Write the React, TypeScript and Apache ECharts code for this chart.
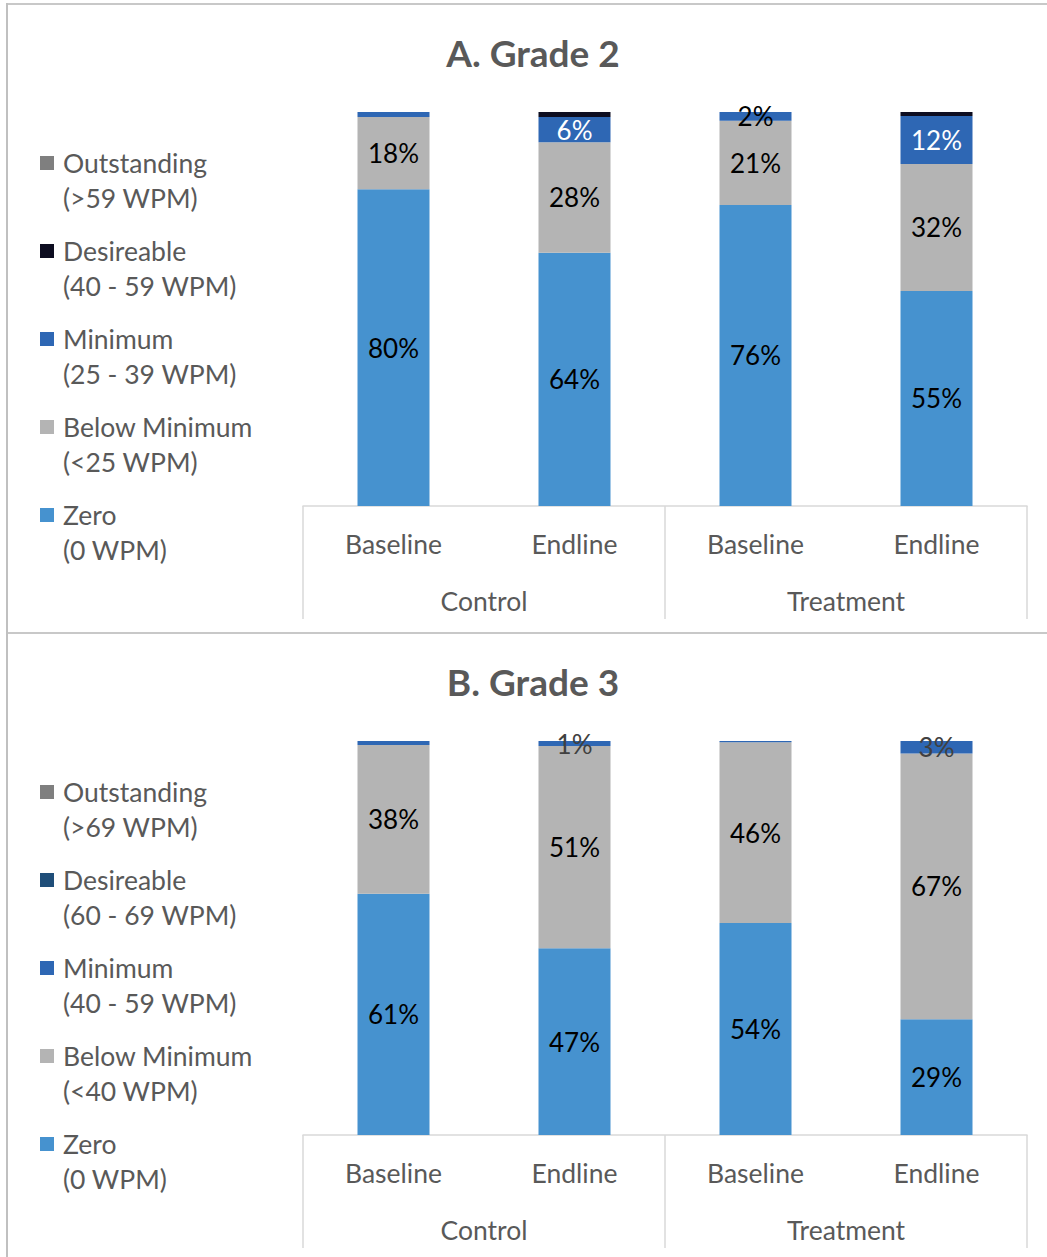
import React, { useEffect, useRef } from "react";
import * as echarts from "echarts";

const categories = ["Baseline", "Endline", "Baseline", "Endline"];
const groups = ["Control", "Treatment"];

const g2Names = [
  "Zero\n(0 WPM)",
  "Below Minimum\n(<25 WPM)",
  "Minimum\n(25 - 39 WPM)",
  "Desireable\n(40 - 59 WPM)",
  "Outstanding\n(>59 WPM)",
];
const g3Names = [
  "Zero\n(0 WPM)",
  "Below Minimum\n(<40 WPM)",
  "Minimum\n(40 - 59 WPM)",
  "Desireable\n(60 - 69 WPM)",
  "Outstanding\n(>69 WPM)",
];

const g2Zero = [80.4, 64.3, 76.4, 54.6];
const g2Below = [18.3, 28.0, 21.4, 32.2];
const g2Minimum = [1.3, 6.4, 2.2, 12.2];
const g2Desireable = [0, 1.3, 0, 1.0];
const g2Outstanding = [0, 0, 0, 0];

const g3Zero = [61.2, 47.4, 53.8, 29.4];
const g3Below = [37.8, 51.3, 45.9, 67.4];
const g3Minimum = [1.0, 1.3, 0.3, 3.2];
const g3Desireable = [0, 0, 0, 0];
const g3Outstanding = [0, 0, 0, 0];

// which segments carry a visible label
const g2MinimumShown = [false, true, true, true];
const g3MinimumShown = [false, true, false, true];

const FONT = "Lato";
const TXT = "#595959";

export default function App() {
  const ref = useRef<HTMLDivElement>(null);
  useEffect(() => {
    if (!ref.current) return;
    const chart = echarts.init(ref.current, null, { renderer: "svg" });

    const g2Colors = ["#4692CF", "#B4B4B4", "#2E67B4", "#0D0D20", "#7F7F7F"];
    const g3Colors = ["#4692CF", "#B4B4B4", "#2E67B4", "#1F4E79", "#7F7F7F"];
    const g2MinLabelColor = ["#000", "#FFFFFF", "#000", "#FFFFFF"];
    const g3MinLabelColor = ["#404040", "#404040", "#404040", "#404040"];

    const labelBase = {
      position: "inside",
      fontFamily: FONT,
      fontSize: 26,
      color: "#000",
      formatter: (p: any) => Math.round(p.value) + "%",
    };

    const mk = (
      grid: number,
      name: string,
      color: string,
      values: number[],
      shown: boolean[],
      labelColors?: string[]
    ) => ({
      type: "bar",
      name,
      xAxisIndex: grid * 2,
      yAxisIndex: grid,
      stack: "s" + grid,
      barWidth: 72,
      itemStyle: { color },
      label: { ...labelBase },
      data: values.map((v, i) => ({
        value: v,
        label: {
          show: shown[i],
          color: labelColors ? labelColors[i] : "#000",
        },
      })),
    });

    const all = [true, true, true, true];
    const none = [false, false, false, false];

    const series = [
      mk(0, g2Names[0], g2Colors[0], g2Zero, all),
      mk(0, g2Names[1], g2Colors[1], g2Below, all),
      mk(0, g2Names[2], g2Colors[2], g2Minimum, g2MinimumShown, g2MinLabelColor),
      mk(0, g2Names[3], g2Colors[3], g2Desireable, none),
      mk(0, g2Names[4], g2Colors[4], g2Outstanding, none),
      mk(1, g3Names[0], g3Colors[0], g3Zero, all),
      mk(1, g3Names[1], g3Colors[1], g3Below, all),
      mk(1, g3Names[2], g3Colors[2], g3Minimum, g3MinimumShown, g3MinLabelColor),
      mk(1, g3Names[3], g3Colors[3], g3Desireable, none),
      mk(1, g3Names[4], g3Colors[4], g3Outstanding, none),
    ];

    const catAxis = (grid: number) => ({
      type: "category",
      gridIndex: grid,
      data: categories,
      position: "bottom",
      axisLine: { show: true, lineStyle: { color: "#D9D9D9", width: 1.5 } },
      axisTick: { show: false },
      axisLabel: { color: TXT, fontFamily: FONT, fontSize: 26.5, lineHeight: 26, margin: 25 },
    });
    const groupAxis = (grid: number) => ({
      type: "category",
      gridIndex: grid,
      data: groups,
      position: "bottom",
      axisLine: { show: false },
      axisTick: {
        show: true,
        length: 113,
        interval: 0,
        lineStyle: { color: "#D9D9D9", width: 1.5 },
      },
      axisLabel: { color: TXT, fontFamily: FONT, fontSize: 26.5, lineHeight: 26, margin: 82 },
    });

    const legendBase = {
      orient: "vertical",
      left: 40,
      padding: 0,
      itemWidth: 14,
      itemHeight: 14,
      itemGap: -17,
      icon: "rect",
      selectedMode: false,
      formatter: (name: string) => "\n" + name,
      textStyle: {
        color: TXT,
        fontFamily: FONT,
        fontSize: 26.5,
        lineHeight: 35,
        padding: [0, 0, 0, 4],
      },
    };

    const legendOrder = [4, 3, 2, 1, 0];

    chart.setOption({
      animation: false,
      backgroundColor: "#FFFFFF",
      grid: [
        { left: 303, width: 724, top: 112, height: 394 },
        { left: 303, width: 724, top: 741, height: 394 },
      ],
      xAxis: [catAxis(0), groupAxis(0), catAxis(1), groupAxis(1)],
      yAxis: [
        { type: "value", gridIndex: 0, min: 0, max: 100, show: false },
        { type: "value", gridIndex: 1, min: 0, max: 100, show: false },
      ],
      legend: [
        { ...legendBase, top: 110.5, data: legendOrder.map((i) => g2Names[i]) },
        { ...legendBase, top: 739.5, data: legendOrder.map((i) => g3Names[i]) },
      ],
      graphic: [
        { type: "rect", shape: { x: 8, y: 3, width: 1039, height: 2 }, style: { fill: "#C8C8C8" } },
        { type: "rect", shape: { x: 6, y: 3, width: 2, height: 1254 }, style: { fill: "#C0C0C0" } },
        { type: "rect", shape: { x: 8, y: 632, width: 1039, height: 2 }, style: { fill: "#C8C8C8" } },
        {
          type: "text",
          x: 533,
          y: 52,
          style: {
            text: "A. Grade 2",
            fill: TXT,
            font: "bold 37px Lato",
            textAlign: "center",
            textVerticalAlign: "middle",
          },
        },
        {
          type: "text",
          x: 533,
          y: 681,
          style: {
            text: "B. Grade 3",
            fill: TXT,
            font: "bold 37px Lato",
            textAlign: "center",
            textVerticalAlign: "middle",
          },
        },
      ],
      series,
    });

    return () => chart.dispose();
  }, []);

  return (
    <div
      ref={ref}
      style={{ position: "absolute", left: 0, top: 0, width: 1047, height: 1257 }}
    />
  );
}
